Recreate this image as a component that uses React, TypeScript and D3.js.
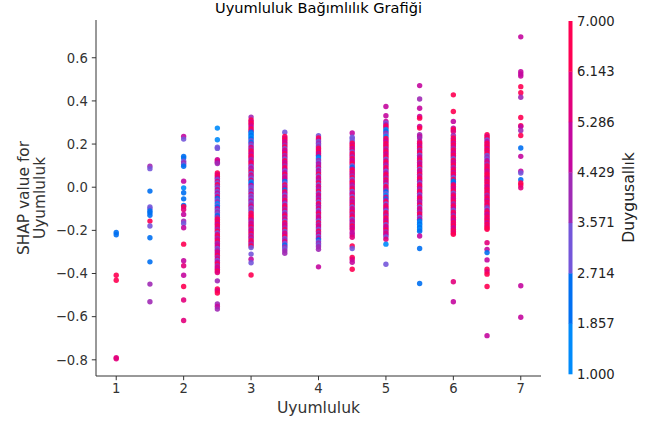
import React from "react";
import * as d3 from "d3";

const title = "Uyumluluk Bağımlılık Grafiği";
const xLabel = "Uyumluluk";
const yLabelLines = ["SHAP value for", "Uyumluluk"];
const colorLabel = "Duygusallık";
const xTicks = [1, 2, 3, 4, 5, 6, 7];
const yTicks = [-0.8, -0.6, -0.4, -0.2, 0, 0.2, 0.4, 0.6];
const colorTicks = ["1.000", "1.857", "2.714", "3.571", "4.429", "5.286", "6.143", "7.000"];
const bandColors = ["#008bfb", "#0070f2", "#7456da", "#a02ab5", "#c4089f", "#e2007c", "#ff0052"];

// [SHAP value, Duygusallık] per Uyumluluk level
const col_1_0: [number, number][] = [[-0.21, 2], [-0.22, 2], [-0.408, 7], [-0.431, 7], [-0.79, 6], [-0.795, 6]];
const col_1_5: [number, number][] = [[0.097, 4], [0.086, 3], [-0.018, 2], [-0.092, 3], [-0.1, 3], [-0.11, 2], [-0.118, 2], [-0.13, 2], [-0.157, 7], [-0.18, 3], [-0.234, 2], [-0.346, 2], [-0.449, 4], [-0.531, 4]];
const col_2_0: [number, number][] = [[0.235, 5], [0.223, 3], [0.143, 2], [0.135, 2], [0.12, 3], [0.112, 4], [0.105, 3], [0.097, 2], [0.028, 5], [-0.003, 1], [-0.026, 2], [-0.054, 2], [-0.085, 2], [-0.09, 7], [-0.103, 6], [-0.126, 5], [-0.157, 4], [-0.168, 3], [-0.188, 5], [-0.264, 7], [-0.341, 5], [-0.364, 6], [-0.408, 5], [-0.46, 7], [-0.523, 6], [-0.618, 6]];
const col_2_5: [number, number][] = [[0.274, 1], [0.22, 1], [0.185, 3], [0.18, 3], [0.128, 5], [0.122, 6], [0.116, 5], [0.11, 4], [0.066, 7], [0.058, 6], [0.05, 7], [0.042, 5], [0.035, 3], [0.027, 6], [0.02, 3], [0.012, 7], [0.004, 4], [-0.004, 3], [-0.012, 6], [-0.02, 3], [-0.028, 5], [-0.036, 3], [-0.044, 6], [-0.052, 2], [-0.06, 3], [-0.068, 4], [-0.076, 1], [-0.084, 3], [-0.092, 2], [-0.1, 5], [-0.108, 3], [-0.116, 4], [-0.124, 3], [-0.132, 2], [-0.14, 4], [-0.148, 7], [-0.156, 6], [-0.164, 7], [-0.172, 5], [-0.18, 7], [-0.188, 6], [-0.196, 4], [-0.204, 7], [-0.212, 3], [-0.22, 6], [-0.228, 7], [-0.236, 4], [-0.244, 6], [-0.252, 7], [-0.26, 4], [-0.268, 5], [-0.276, 6], [-0.284, 3], [-0.292, 4], [-0.3, 6], [-0.308, 5], [-0.316, 7], [-0.324, 4], [-0.332, 6], [-0.34, 3], [-0.348, 5], [-0.356, 7], [-0.364, 4], [-0.372, 6], [-0.38, 5], [-0.388, 7], [-0.395, 6], [-0.434, 4], [-0.472, 7], [-0.48, 6], [-0.49, 7], [-0.541, 4], [-0.553, 5], [-0.565, 4]];
const col_3_0: [number, number][] = [[0.325, 4], [0.312, 7], [0.305, 6], [0.296, 7], [0.288, 6], [0.279, 5], [0.27, 7], [0.262, 6], [0.255, 2], [0.247, 1], [0.24, 2], [0.232, 1], [0.224, 2], [0.216, 3], [0.208, 2], [0.2, 4], [0.192, 3], [0.184, 6], [0.176, 4], [0.168, 7], [0.16, 6], [0.152, 5], [0.144, 7], [0.136, 6], [0.128, 4], [0.12, 5], [0.112, 7], [0.104, 6], [0.096, 3], [0.088, 5], [0.08, 4], [0.072, 7], [0.064, 3], [0.056, 6], [0.048, 4], [0.04, 3], [0.032, 6], [0.024, 1], [0.016, 2], [0.008, 5], [0.0, 3], [-0.008, 3], [-0.016, 4], [-0.024, 3], [-0.032, 6], [-0.04, 3], [-0.048, 4], [-0.056, 3], [-0.064, 5], [-0.072, 3], [-0.08, 4], [-0.088, 6], [-0.096, 3], [-0.104, 4], [-0.112, 3], [-0.12, 7], [-0.128, 6], [-0.136, 7], [-0.144, 7], [-0.152, 5], [-0.16, 4], [-0.168, 6], [-0.176, 5], [-0.184, 7], [-0.192, 4], [-0.2, 6], [-0.208, 5], [-0.216, 7], [-0.224, 4], [-0.232, 6], [-0.24, 4], [-0.248, 7], [-0.256, 6], [-0.264, 4], [-0.272, 7], [-0.28, 3], [-0.31, 3], [-0.334, 5], [-0.35, 3], [-0.407, 7]];
const col_3_5: [number, number][] = [[0.255, 3], [0.235, 7], [0.227, 6], [0.219, 7], [0.211, 5], [0.203, 6], [0.195, 4], [0.187, 7], [0.179, 3], [0.171, 6], [0.163, 5], [0.155, 7], [0.147, 4], [0.139, 6], [0.131, 3], [0.123, 7], [0.115, 5], [0.107, 6], [0.099, 4], [0.091, 7], [0.083, 6], [0.075, 3], [0.067, 5], [0.059, 7], [0.051, 4], [0.043, 6], [0.035, 5], [0.027, 2], [0.019, 3], [0.011, 7], [0.003, 4], [-0.005, 6], [-0.013, 2], [-0.021, 7], [-0.029, 5], [-0.037, 3], [-0.045, 6], [-0.053, 4], [-0.061, 7], [-0.069, 5], [-0.077, 3], [-0.085, 6], [-0.093, 7], [-0.101, 4], [-0.109, 6], [-0.117, 3], [-0.125, 5], [-0.133, 7], [-0.141, 4], [-0.149, 6], [-0.157, 3], [-0.165, 7], [-0.173, 5], [-0.181, 6], [-0.189, 4], [-0.197, 7], [-0.205, 3], [-0.213, 6], [-0.221, 5], [-0.229, 7], [-0.237, 3], [-0.245, 4], [-0.253, 6], [-0.261, 3], [-0.269, 2], [-0.277, 4], [-0.285, 3], [-0.295, 4], [-0.306, 4]];
const col_4_0: [number, number][] = [[0.239, 3], [0.228, 7], [0.22, 6], [0.212, 3], [0.204, 4], [0.196, 3], [0.188, 4], [0.18, 7], [0.172, 6], [0.164, 7], [0.156, 5], [0.148, 6], [0.14, 2], [0.132, 1], [0.124, 4], [0.116, 3], [0.108, 5], [0.1, 4], [0.092, 6], [0.084, 3], [0.076, 5], [0.068, 4], [0.06, 7], [0.052, 3], [0.044, 6], [0.036, 5], [0.028, 4], [0.02, 7], [0.012, 3], [0.004, 6], [-0.004, 5], [-0.012, 4], [-0.02, 7], [-0.028, 3], [-0.036, 6], [-0.044, 5], [-0.052, 4], [-0.06, 6], [-0.068, 3], [-0.076, 7], [-0.084, 5], [-0.092, 4], [-0.1, 6], [-0.108, 3], [-0.116, 5], [-0.124, 7], [-0.132, 4], [-0.14, 6], [-0.148, 5], [-0.156, 3], [-0.164, 7], [-0.172, 4], [-0.18, 6], [-0.188, 5], [-0.196, 3], [-0.204, 7], [-0.212, 4], [-0.22, 6], [-0.228, 3], [-0.236, 5], [-0.244, 2], [-0.252, 3], [-0.26, 4], [-0.268, 3], [-0.276, 4], [-0.288, 4], [-0.369, 5]];
const col_4_5: [number, number][] = [[0.251, 5], [0.232, 3], [0.224, 3], [0.212, 3], [0.204, 7], [0.196, 6], [0.188, 7], [0.18, 5], [0.172, 6], [0.164, 3], [0.156, 7], [0.148, 6], [0.14, 4], [0.132, 7], [0.124, 5], [0.116, 6], [0.108, 7], [0.1, 3], [0.092, 2], [0.084, 6], [0.076, 7], [0.068, 5], [0.06, 6], [0.052, 4], [0.044, 7], [0.036, 3], [0.028, 6], [0.02, 7], [0.012, 5], [0.004, 4], [-0.004, 6], [-0.012, 7], [-0.02, 3], [-0.028, 5], [-0.036, 6], [-0.044, 3], [-0.052, 7], [-0.06, 4], [-0.068, 6], [-0.076, 5], [-0.084, 7], [-0.092, 3], [-0.1, 6], [-0.108, 5], [-0.116, 7], [-0.124, 4], [-0.132, 6], [-0.14, 7], [-0.148, 3], [-0.156, 5], [-0.164, 6], [-0.172, 4], [-0.18, 7], [-0.188, 5], [-0.196, 6], [-0.21, 5], [-0.22, 5], [-0.232, 6], [-0.272, 7], [-0.284, 3], [-0.325, 7], [-0.335, 6], [-0.348, 5], [-0.38, 7]];
const col_5_0: [number, number][] = [[0.374, 5], [0.331, 5], [0.305, 5], [0.297, 3], [0.289, 5], [0.282, 7], [0.274, 6], [0.266, 1], [0.258, 2], [0.25, 4], [0.242, 3], [0.234, 1], [0.226, 7], [0.218, 6], [0.21, 5], [0.202, 7], [0.194, 6], [0.186, 7], [0.178, 4], [0.17, 6], [0.162, 7], [0.154, 5], [0.146, 6], [0.138, 7], [0.13, 3], [0.122, 6], [0.114, 7], [0.106, 5], [0.098, 4], [0.09, 7], [0.082, 6], [0.074, 3], [0.066, 5], [0.058, 7], [0.05, 6], [0.042, 4], [0.034, 7], [0.026, 5], [0.018, 6], [0.01, 3], [0.002, 7], [-0.006, 6], [-0.014, 4], [-0.022, 2], [-0.03, 3], [-0.038, 1], [-0.046, 6], [-0.054, 2], [-0.062, 5], [-0.07, 7], [-0.078, 3], [-0.086, 6], [-0.094, 7], [-0.102, 5], [-0.11, 3], [-0.118, 7], [-0.126, 6], [-0.134, 4], [-0.142, 7], [-0.15, 6], [-0.158, 5], [-0.166, 7], [-0.174, 3], [-0.182, 6], [-0.19, 5], [-0.198, 7], [-0.206, 4], [-0.214, 6], [-0.222, 5], [-0.23, 3], [-0.241, 6], [-0.264, 1], [-0.357, 3]];
const col_5_5: [number, number][] = [[0.471, 5], [0.409, 4], [0.366, 5], [0.328, 5], [0.32, 7], [0.282, 5], [0.274, 7], [0.243, 4], [0.235, 5], [0.228, 4], [0.212, 5], [0.204, 7], [0.196, 6], [0.188, 5], [0.18, 7], [0.172, 4], [0.164, 6], [0.156, 7], [0.148, 3], [0.14, 5], [0.132, 6], [0.124, 7], [0.116, 4], [0.108, 6], [0.1, 5], [0.092, 7], [0.084, 3], [0.076, 6], [0.068, 5], [0.06, 7], [0.052, 4], [0.044, 6], [0.036, 7], [0.028, 5], [0.02, 3], [0.012, 6], [0.004, 7], [-0.004, 5], [-0.012, 4], [-0.02, 7], [-0.028, 6], [-0.036, 3], [-0.044, 5], [-0.052, 7], [-0.06, 6], [-0.068, 4], [-0.076, 5], [-0.084, 7], [-0.092, 3], [-0.1, 6], [-0.108, 5], [-0.116, 4], [-0.124, 7], [-0.132, 6], [-0.14, 3], [-0.148, 5], [-0.156, 2], [-0.164, 1], [-0.172, 2], [-0.18, 1], [-0.188, 2], [-0.196, 1], [-0.204, 2], [-0.226, 5], [-0.284, 2], [-0.446, 2]];
const col_6_0: [number, number][] = [[0.428, 7], [0.351, 7], [0.305, 5], [0.274, 5], [0.266, 7], [0.258, 6], [0.24, 4], [0.228, 7], [0.22, 6], [0.212, 7], [0.204, 5], [0.196, 7], [0.188, 6], [0.18, 4], [0.172, 7], [0.164, 6], [0.156, 5], [0.148, 7], [0.14, 6], [0.132, 3], [0.124, 7], [0.116, 5], [0.108, 6], [0.1, 7], [0.092, 4], [0.084, 6], [0.076, 7], [0.068, 5], [0.06, 7], [0.052, 6], [0.044, 3], [0.036, 7], [0.028, 2], [0.02, 2], [0.012, 6], [0.004, 7], [-0.004, 5], [-0.012, 6], [-0.02, 7], [-0.028, 3], [-0.036, 6], [-0.044, 7], [-0.052, 5], [-0.06, 6], [-0.068, 7], [-0.076, 4], [-0.084, 6], [-0.092, 7], [-0.1, 5], [-0.108, 3], [-0.116, 7], [-0.124, 6], [-0.132, 4], [-0.14, 7], [-0.148, 6], [-0.156, 5], [-0.164, 7], [-0.172, 6], [-0.18, 7], [-0.188, 5], [-0.196, 6], [-0.204, 7], [-0.212, 6], [-0.218, 7], [-0.438, 6], [-0.531, 5]];
const col_6_5: [number, number][] = [[0.243, 7], [0.235, 6], [0.227, 7], [0.219, 3], [0.211, 5], [0.203, 7], [0.195, 6], [0.187, 7], [0.179, 5], [0.171, 7], [0.163, 6], [0.155, 7], [0.147, 3], [0.139, 4], [0.131, 3], [0.123, 5], [0.115, 6], [0.107, 4], [0.099, 7], [0.091, 6], [0.083, 7], [0.075, 5], [0.067, 6], [0.059, 7], [0.051, 7], [0.043, 6], [0.035, 5], [0.027, 7], [0.019, 6], [0.011, 7], [0.003, 5], [-0.005, 6], [-0.013, 7], [-0.021, 6], [-0.029, 7], [-0.037, 4], [-0.045, 6], [-0.053, 7], [-0.061, 5], [-0.069, 7], [-0.077, 6], [-0.085, 7], [-0.093, 4], [-0.101, 3], [-0.109, 6], [-0.117, 7], [-0.125, 5], [-0.133, 6], [-0.141, 7], [-0.149, 6], [-0.157, 7], [-0.165, 5], [-0.173, 7], [-0.181, 6], [-0.189, 7], [-0.195, 7], [-0.257, 6], [-0.288, 5], [-0.303, 2], [-0.337, 5], [-0.38, 7], [-0.392, 6], [-0.403, 7], [-0.46, 7], [-0.688, 5]];
const col_7_0: [number, number][] = [[0.697, 5], [0.535, 5], [0.525, 5], [0.515, 5], [0.466, 7], [0.438, 7], [0.417, 4], [0.323, 7], [0.285, 7], [0.281, 5], [0.263, 4], [0.24, 7], [0.182, 2], [0.143, 5], [0.074, 5], [0.066, 3], [0.035, 2], [0.02, 7], [0.01, 7], [-0.003, 6], [-0.457, 5], [-0.603, 5]];

const levels = [1, 1.5, 2, 2.5, 3, 3.5, 4, 4.5, 5, 5.5, 6, 6.5, 7];
const columns = [col_1_0, col_1_5, col_2_0, col_2_5, col_3_0, col_3_5, col_4_0, col_4_5, col_5_0, col_5_5, col_6_0, col_6_5, col_7_0];

const W = 658, H = 425;
const M = { left: 96, right: 541, top: 20, bottom: 376 };
const CB = { x: 568.5, w: 4, top: 21, bottom: 374 };
const FONT = "DejaVu Sans, sans-serif";
const AX = "#333333";

export default function App() {
  const x = d3.scaleLinear().domain([0.7, 7.3]).range([M.left, M.right]);
  const y = d3.scaleLinear().domain([-0.875, 0.775]).range([M.bottom, M.top]);
  const color = d3.scaleQuantize<string>().domain([1, 7]).range(bandColors);
  const cb = d3.scaleLinear().domain([1, 7]).range([CB.bottom, CB.top]);
  const cbVals = colorTicks.map(Number);
  const fmtY = (v: number) => d3.format(".1f")(v).replace("-", "\u2212");

  const pts: { cx: number; cy: number; fill: string }[] = [];
  columns.forEach((col, i) => {
    col.forEach(([s, dv]) => pts.push({ cx: x(levels[i]), cy: y(s), fill: color(dv) }));
  });

  return (
    <svg width={W} height={H} style={{ position: "absolute", left: 0, top: 0, background: "#fff" }} fontFamily={FONT}>
      <rect width={W} height={H} fill="#fff" />
      <text x={(M.left + M.right) / 2} y={12.5} textAnchor="middle" fontSize={14.6} fill="#000">{title}</text>
      {pts.map((p, i) => (
        <circle key={i} cx={p.cx} cy={p.cy} r={2.7} fill={p.fill} fillOpacity={0.9} />
      ))}
      <line x1={M.left} x2={M.left} y1={M.top} y2={M.bottom} stroke={AX} strokeWidth={1} />
      <line x1={M.left} x2={M.right} y1={M.bottom} y2={M.bottom} stroke={AX} strokeWidth={1} />
      {yTicks.map((t) => (
        <g key={t}>
          <line x1={M.left - 4.2} x2={M.left} y1={y(t)} y2={y(t)} stroke={AX} strokeWidth={1} />
          <text x={M.left - 8.2} y={y(t)} dy="0.36em" textAnchor="end" fontSize={13.2} fill={AX}>{fmtY(t)}</text>
        </g>
      ))}
      {xTicks.map((t) => (
        <g key={t}>
          <line x1={x(t)} x2={x(t)} y1={M.bottom} y2={M.bottom + 4.2} stroke={AX} strokeWidth={1} />
          <text x={x(t)} y={393} textAnchor="middle" fontSize={13.2} fill={AX}>{t}</text>
        </g>
      ))}
      <text x={(M.left + M.right) / 2} y={413} textAnchor="middle" fontSize={15.6} fill={AX}>{xLabel}</text>
      {yLabelLines.map((l, i) => (
        <text key={i} transform={`translate(${28.5 + i * 16},198) rotate(-90)`} textAnchor="middle" fontSize={15.4} fill={AX}>{l}</text>
      ))}
      {bandColors.map((c, i) => (
        <rect key={i} x={CB.x} width={CB.w} y={cb(1 + ((i + 1) * 6) / 7)} height={cb(1 + (i * 6) / 7) - cb(1 + ((i + 1) * 6) / 7) + 0.3} fill={c} />
      ))}
      {colorTicks.map((t, i) => (
        <text key={t} x={577} y={cb(cbVals[i])} dy="0.36em" fontSize={13.2} fill="#222">{t}</text>
      ))}
      <text transform={`translate(634,197.5) rotate(-90)`} textAnchor="middle" fontSize={15.6} fill="#222">{colorLabel}</text>
    </svg>
  );
}
